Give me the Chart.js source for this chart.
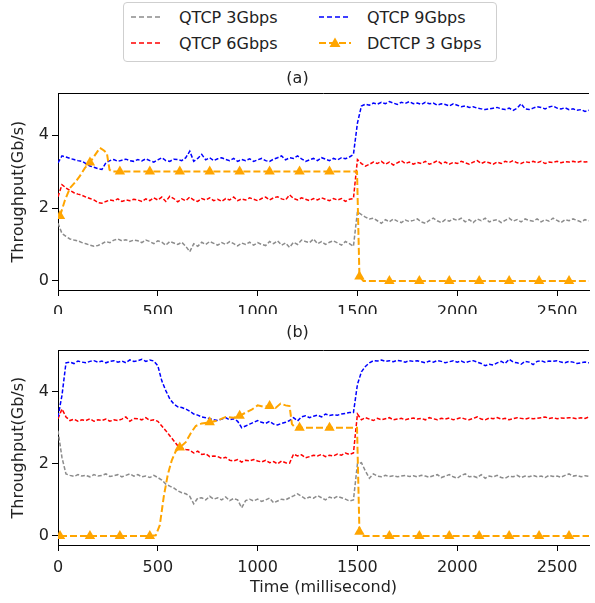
<!DOCTYPE html>
<html>
<head>
<meta charset="utf-8">
<script src="https://cdn.jsdelivr.net/npm/chart.js@4.4.1/dist/chart.umd.min.js"></script>
<style>
  body { margin: 0; background: #fff; overflow: hidden; font-family: "DejaVu Sans", sans-serif; color: #222; }
  #page { position: relative; width: 595px; height: 603px; }
  #legend {
    position: absolute; left: 123px; top: 2px; width: 372px; height: 58px;
    border: 1px solid #cfcfcf; border-radius: 4px; background: #fff;
  }
  .item { position: absolute; height: 20px; display: flex; align-items: center; font-size: 16px; white-space: nowrap; }
  .item svg { margin-right: 15px; }
  .box { position: absolute; left: 0; }
</style>
</head>
<body>
<div id="page">
  <div id="legend">
    <div class="item" style="left:6px;top:4px">
      <svg width="34" height="14"><line x1="1" y1="7" x2="33" y2="7" stroke="#8c8c8c" stroke-width="1.5" stroke-dasharray="5 3"/></svg>QTCP 3Gbps
    </div>
    <div class="item" style="left:6px;top:30px">
      <svg width="34" height="14"><line x1="1" y1="7" x2="33" y2="7" stroke="#ff0000" stroke-width="1.5" stroke-dasharray="5 3"/></svg>QTCP 6Gbps
    </div>
    <div class="item" style="left:194px;top:4px">
      <svg width="34" height="14"><line x1="1" y1="7" x2="33" y2="7" stroke="#0000ff" stroke-width="1.5" stroke-dasharray="5 3"/></svg>QTCP 9Gbps
    </div>
    <div class="item" style="left:194px;top:30px">
      <svg width="34" height="14"><line x1="1" y1="7" x2="33" y2="7" stroke="#ffa500" stroke-width="2" stroke-dasharray="7 3"/><polygon points="17,1.5 22.5,11 11.5,11" fill="#ffa500"/></svg>DCTCP 3 Gbps
    </div>
  </div>
  <div class="box" style="top:66px;width:595px;height:248px"><canvas id="chartA"></canvas></div>
  <div class="box" style="top:314px;width:595px;height:289px"><canvas id="chartB"></canvas></div>
</div>
<script>
// sample times of the QTCP flows (one sample every 20 ms)
const sampleTimes = [];
for (let t = 0; t <= 2660; t += 20) sampleTimes.push(t);

const xTicks = [0, 500, 1000, 1500, 2000, 2500];
const yTicks = [0, 2, 4];

// (a) throughput, Gb/s
const a3G = [
  1.58,1.30,1.22,1.15,1.12,1.10,1.05,1.02,0.98,0.95,
  0.97,1.02,1.08,1.05,1.12,1.15,1.10,1.13,1.08,1.12,
  1.10,1.05,1.12,1.08,1.02,1.10,1.06,0.98,1.08,1.04,
  1.00,1.06,0.95,0.80,1.02,0.95,1.06,1.00,1.08,1.03,
  0.98,1.05,1.00,1.08,1.02,0.96,1.04,1.00,1.06,0.98,
  1.05,1.00,0.97,1.08,1.02,1.10,0.98,1.04,0.92,1.06,
  1.00,1.12,1.08,1.05,1.15,1.02,1.08,1.00,1.06,1.10,
  1.04,0.98,1.08,1.02,0.95,1.90,1.82,1.75,1.70,1.72,
  1.65,1.58,1.68,1.62,1.70,1.64,1.60,1.67,1.63,1.66,
  1.70,1.62,1.58,1.66,1.72,1.65,1.60,1.68,1.64,1.70,
  1.66,1.72,1.62,1.68,1.60,1.70,1.65,1.72,1.62,1.66,
  1.68,1.60,1.66,1.72,1.64,1.68,1.62,1.70,1.66,1.64,
  1.70,1.62,1.68,1.64,1.72,1.66,1.60,1.68,1.65,1.70,
  1.66,1.62,1.68,1.65
];
const a6G = [
  2.31,2.64,2.55,2.48,2.42,2.38,2.35,2.30,2.26,2.22,
  2.15,2.13,2.18,2.22,2.20,2.25,2.18,2.22,2.20,2.24,
  2.22,2.18,2.25,2.20,2.28,2.22,2.30,2.18,2.32,2.26,
  2.17,2.25,2.20,2.30,2.22,2.18,2.26,2.22,2.28,2.20,
  2.24,2.18,2.26,2.22,2.30,2.20,2.25,2.22,2.28,2.24,
  2.20,2.26,2.30,2.22,2.28,2.31,2.25,2.22,2.36,2.26,
  2.22,2.28,2.24,2.20,2.26,2.22,2.28,2.24,2.20,2.26,
  2.22,2.26,2.18,2.24,2.26,3.33,3.22,3.15,3.20,3.26,
  3.22,3.28,3.20,3.26,3.18,3.24,3.30,3.22,3.26,3.20,
  3.25,3.22,3.28,3.20,3.24,3.30,3.22,3.26,3.20,3.25,
  3.22,3.28,3.24,3.20,3.26,3.30,3.22,3.27,3.24,3.20,
  3.26,3.22,3.28,3.25,3.30,3.24,3.22,3.27,3.25,3.28,
  3.24,3.28,3.22,3.26,3.25,3.28,3.24,3.27,3.26,3.28,
  3.25,3.28,3.26,3.28
];
const a9G = [
  3.24,3.43,3.40,3.36,3.33,3.30,3.28,3.22,3.15,3.12,
  3.08,3.06,3.24,3.30,3.33,3.28,3.31,3.34,3.30,3.28,
  3.33,3.29,3.35,3.30,3.26,3.32,3.38,3.30,3.28,3.34,
  3.33,3.30,3.38,3.56,3.28,3.36,3.47,3.32,3.38,3.30,
  3.35,3.38,3.33,3.30,3.36,3.28,3.33,3.30,3.35,3.28,
  3.32,3.36,3.30,3.28,3.34,3.38,3.43,3.32,3.38,3.36,
  3.43,3.35,3.28,3.32,3.36,3.30,3.38,3.34,3.30,3.36,
  3.32,3.38,3.35,3.40,3.47,4.33,4.80,4.85,4.82,4.88,
  4.85,4.90,4.86,4.92,4.88,4.84,4.90,4.87,4.92,4.86,
  4.88,4.84,4.90,4.86,4.88,4.82,4.86,4.84,4.80,4.86,
  4.82,4.78,4.80,4.76,4.78,4.74,4.72,4.70,4.72,4.74,
  4.76,4.72,4.70,4.74,4.68,4.74,4.86,4.72,4.70,4.74,
  4.78,4.76,4.72,4.77,4.80,4.74,4.72,4.75,4.70,4.72,
  4.68,4.70,4.65,4.68
];
const aDctcpT = [10,35,60,85,110,135,160,185,210,230,245,258,270,310,460,610,760,910,1060,1210,1360,1498,1510,1530,1660,1810,1960,2110,2260,2410,2560,2660];
const aDctcpV = [1.78,2.22,2.55,2.70,2.88,3.10,3.25,3.45,3.65,3.58,3.50,3.05,3.00,3.00,3.00,3.00,3.00,3.00,3.00,3.00,3.00,3.00,0.12,0.00,0.00,0.00,0.00,0.00,0.00,0.00,0.00,0.00];

// (b) throughput, Gb/s
const b3G = [
  2.92,2.17,1.72,1.68,1.65,1.70,1.66,1.68,1.64,1.70,
  1.66,1.68,1.72,1.65,1.67,1.70,1.64,1.68,1.72,1.66,
  1.70,1.64,1.66,1.62,1.68,1.62,1.55,1.44,1.38,1.33,
  1.25,1.20,1.17,1.10,0.89,1.05,1.06,1.00,1.10,1.02,
  1.06,1.00,1.08,0.98,1.04,1.00,0.78,0.98,1.02,0.97,
  1.02,0.96,1.00,1.05,0.92,0.97,1.02,1.00,1.06,1.11,
  1.17,1.10,1.03,1.08,1.05,1.12,1.06,1.00,1.08,1.04,
  1.10,1.06,1.02,0.97,1.00,2.00,2.03,1.80,1.60,1.72,
  1.66,1.64,1.68,1.65,1.67,1.64,1.66,1.68,1.65,1.67,
  1.64,1.68,1.66,1.63,1.67,1.70,1.62,1.66,1.70,1.64,
  1.60,1.68,1.72,1.64,1.66,1.62,1.70,1.60,1.66,1.64,
  1.68,1.62,1.60,1.66,1.64,1.68,1.62,1.66,1.64,1.68,
  1.64,1.66,1.62,1.68,1.65,1.66,1.63,1.68,1.72,1.66,
  1.68,1.64,1.67,1.65
];
const b6G = [
  3.25,3.52,3.30,3.20,3.24,3.18,3.22,3.20,3.25,3.18,
  3.22,3.20,3.24,3.18,3.22,3.20,3.24,3.30,3.18,3.26,
  3.25,3.22,3.28,3.20,3.22,3.18,3.05,2.92,2.78,2.64,
  2.50,2.44,2.40,2.38,2.30,2.35,2.26,2.28,2.20,2.22,
  2.20,2.15,2.18,2.10,2.08,2.12,2.05,2.10,2.08,2.12,
  2.08,2.05,2.10,2.03,2.06,2.00,2.08,2.03,2.02,2.27,
  2.22,2.25,2.17,2.20,2.24,2.22,2.26,2.20,2.24,2.22,
  2.27,2.24,2.30,2.26,2.30,3.38,3.22,3.28,3.24,3.20,
  3.26,3.22,3.25,3.28,3.22,3.24,3.26,3.22,3.25,3.27,
  3.24,3.26,3.22,3.28,3.25,3.22,3.26,3.24,3.27,3.22,
  3.25,3.28,3.24,3.22,3.26,3.30,3.24,3.22,3.27,3.25,
  3.28,3.24,3.26,3.22,3.25,3.28,3.26,3.24,3.27,3.25,
  3.26,3.28,3.30,3.26,3.28,3.25,3.27,3.26,3.28,3.27,
  3.25,3.28,3.26,3.30
];
const b9G = [
  3.30,3.90,4.80,4.82,4.78,4.85,4.82,4.80,4.84,4.86,
  4.82,4.85,4.80,4.84,4.86,4.82,4.85,4.80,4.88,4.84,
  4.86,4.90,4.84,4.88,4.85,4.72,4.30,4.03,3.80,3.66,
  3.58,3.56,3.52,3.46,3.38,3.35,3.30,3.28,3.25,3.22,
  3.20,3.24,3.28,3.22,3.25,3.18,3.00,3.05,3.10,3.15,
  3.20,3.15,3.12,3.18,3.10,3.08,3.12,3.15,3.20,3.28,
  3.19,3.30,3.33,3.28,3.32,3.35,3.30,3.38,3.34,3.36,
  3.35,3.38,3.40,3.42,3.42,4.20,4.55,4.70,4.80,4.86,
  4.85,4.88,4.84,4.86,4.83,4.87,4.85,4.82,4.86,4.84,
  4.86,4.83,4.80,4.85,4.82,4.86,4.84,4.80,4.83,4.86,
  4.82,4.85,4.80,4.84,4.86,4.82,4.78,4.72,4.76,4.74,
  4.80,4.84,4.78,4.90,4.82,4.80,4.76,4.84,4.82,4.75,
  4.84,4.86,4.82,4.85,4.84,4.86,4.82,4.80,4.84,4.82,
  4.78,4.80,4.82,4.80
];
const bDctcpT = [10,160,310,460,490,510,530,550,570,590,610,640,665,690,720,760,800,840,880,910,940,970,1000,1030,1060,1090,1115,1140,1160,1172,1190,1210,1360,1498,1510,1530,1660,1810,1960,2110,2260,2410,2560,2660];
const bDctcpV = [0.00,0.00,0.00,0.00,0.02,0.30,1.10,1.70,2.10,2.35,2.45,2.60,2.85,3.05,3.12,3.15,3.20,3.30,3.28,3.33,3.42,3.50,3.62,3.58,3.60,3.55,3.67,3.62,3.60,3.10,3.00,3.00,3.00,3.00,0.12,0.00,0.00,0.00,0.00,0.00,0.00,0.00,0.00,0.00];

// DCTCP markers every 150 ms starting at 10 ms
const markerTimes = [10,160,310,460,610,760,910,1060,1210,1360,1510,1660,1810,1960,2110,2260,2410,2560];

const FONT = { family: "'DejaVu Sans', sans-serif", size: 16, weight: "normal" };
Chart.defaults.color = "#222";

function series(vals) {
  return sampleTimes.map((t, i) => ({ x: t, y: vals[i] }));
}
function pairs(ts, vs) {
  return ts.map((t, i) => ({ x: t, y: vs[i] }));
}

// matplotlib-style top spine (right side runs off the figure)
const topSpine = {
  id: "topSpine",
  afterDraw(chart) {
    const { ctx, chartArea } = chart;
    ctx.save();
    ctx.strokeStyle = "#000";
    ctx.lineWidth = 1;
    ctx.beginPath();
    ctx.moveTo(chartArea.left, Math.round(chartArea.top) + 0.5);
    ctx.lineTo(chartArea.right, Math.round(chartArea.top) + 0.5);
    ctx.stroke();
    ctx.restore();
  }
};

function makeChart(id, title, v3, v6, v9, dT, dV, opts) {
  const ctx = document.getElementById(id).getContext("2d");
  return new Chart(ctx, {
    type: "line",
    data: {
      datasets: [
        { label: "DCTCP 3 Gbps", data: pairs(dT, dV), borderColor: "#ffa500", backgroundColor: "#ffa500",
          borderWidth: 2, borderDash: [7, 3], pointStyle: "triangle", pointBorderWidth: 0,
          pointRadius: (c) => markerTimes.includes(c.raw && c.raw.x) ? 6 : 0 },
        { label: "QTCP 9Gbps", data: series(v9), borderColor: "#0000ff", borderWidth: 1.5, borderDash: [4, 2], pointRadius: 0 },
        { label: "QTCP 6Gbps", data: series(v6), borderColor: "#ff0000", borderWidth: 1.5, borderDash: [4, 2], pointRadius: 0 },
        { label: "QTCP 3Gbps", data: series(v3), borderColor: "#8c8c8c", borderWidth: 1.5, borderDash: [4, 2], pointRadius: 0 }
      ]
    },
    options: {
      responsive: true,
      maintainAspectRatio: false,
      animation: false,
      layout: { padding: { left: 0, right: 0, top: 0, bottom: 0 } },
      plugins: {
        legend: { display: false },
        tooltip: { enabled: false },
        title: { display: true, text: title, font: FONT, color: "#222", padding: opts.titlePad }
      },
      scales: {
        x: {
          type: "linear", min: 0, max: 2660,
          afterBuildTicks: (s) => { s.ticks = xTicks.map(v => ({ value: v })); },
          afterFit: (s) => { s.height = opts.xHeight; },
          ticks: { font: FONT, color: "#222", padding: 7, maxRotation: 0, callback: (v) => String(v) },
          grid: { drawOnChartArea: false, drawTicks: true, tickLength: 6, color: "#000" },
          border: { display: true, color: "#000", width: 1 },
          title: opts.xTitle
        },
        y: {
          min: -0.25, max: 5.15,
          afterBuildTicks: (s) => { s.ticks = yTicks.map(v => ({ value: v })); },
          afterFit: (s) => { s.width = 58; },
          ticks: { font: FONT, color: "#222", padding: 3, callback: (v) => String(v) },
          grid: { drawOnChartArea: false, drawTicks: true, tickLength: 6, color: "#000" },
          border: { display: true, color: "#000", width: 1 },
          title: { display: true, text: "Throughput(Gb/s)", font: FONT, color: "#222", padding: { top: 9, bottom: 0 } }
        }
      }
    },
    plugins: [topSpine]
  });
}

makeChart("chartA", "(a)", a3G, a6G, a9G, aDctcpT, aDctcpV, {
  titlePad: { top: 3, bottom: 5 },
  xHeight: 24,
  xTitle: { display: false }
});
makeChart("chartB", "(b)", b3G, b6G, b9G, bDctcpT, bDctcpV, {
  titlePad: { top: 9, bottom: 8 },
  xHeight: 58,
  xTitle: { display: true, text: "Time (millisecond)", font: FONT, color: "#222", padding: { top: 0, bottom: 6 } }
});
</script>
</body>
</html>
